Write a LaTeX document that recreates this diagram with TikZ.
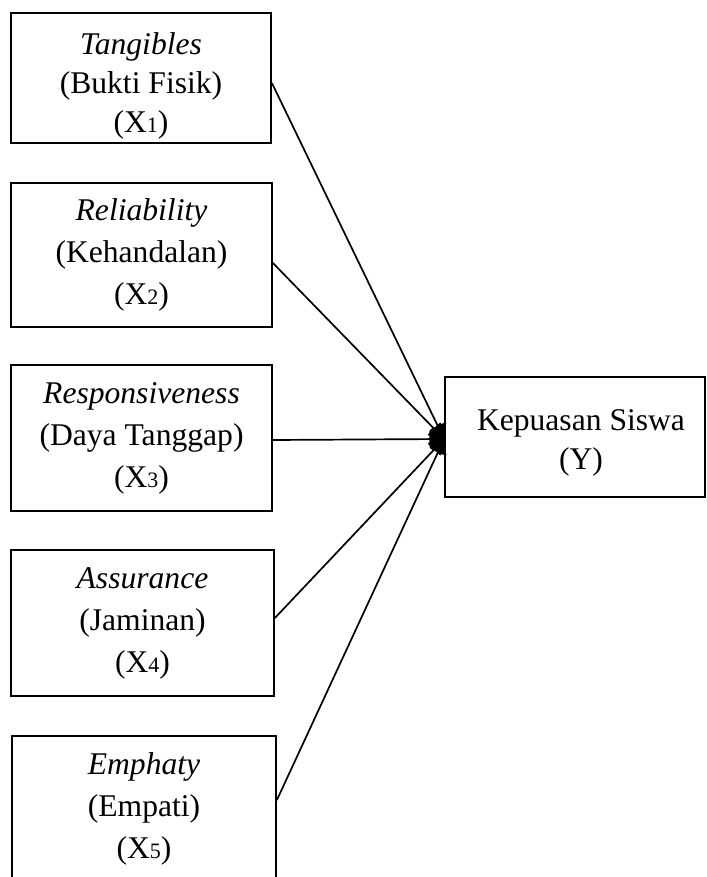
\documentclass[tikz,border=0pt]{standalone}
\usepackage{fontspec}
\setmainfont{Liberation Serif}
\usetikzlibrary{arrows.meta}
\newcommand\dsub[1]{{\fontsize{11pt}{11pt}\selectfont #1}}
\begin{document}
\begin{tikzpicture}[x=0.5pt,y=-0.5pt,
 box/.style={draw, line width=0.9pt, inner sep=0pt, align=center, font=\fontsize{15.8pt}{21pt}\selectfont},
 boxtext/.style={inner sep=0pt, align=center, font=\fontsize{15.8pt}{19.6pt}\selectfont},
 link/.style={line width=0.85pt, -{Latex[length=8pt,width=10pt,round]}}]
\useasboundingbox (0,0) rectangle (706,877);
\node[box, minimum width=130pt, minimum height=65pt,
  label={[boxtext, yshift=-4pt]center:{\textit{Tangibles}\\(Bukti Fisik)\\(X\dsub{1})}}] (b1) at (141,78) {};
\node[box, minimum width=130.5pt, minimum height=72pt] (b2) at (141.5,255) {\textit{Reliability}\\(Kehandalan)\\(X\dsub{2})};
\node[box, minimum width=130.5pt, minimum height=73pt] (b3) at (141.5,438) {\textit{Responsiveness}\\(Daya Tanggap)\\(X\dsub{3})};
\node[box, minimum width=131.5pt, minimum height=73pt] (b4) at (142.5,623) {\textit{Assurance}\\(Jaminan)\\(X\dsub{4})};
\node[box, minimum width=132pt, minimum height=73pt] (b5) at (144,809) {\textit{Emphaty}\\(Empati)\\(X\dsub{5})};
\node[box, minimum width=130pt, minimum height=60pt,
  label={[boxtext, yshift=-3pt, xshift=3pt]center:{Kepuasan Siswa\\(Y)}}] (y) at (575,437) {};
\draw[link] ([yshift=-2.5pt]b1.east) -- ([yshift=-1pt]y.west);
\draw[link] ([yshift=-4pt]b2.east) -- ([yshift=-1pt]y.west);
\draw[link] ([yshift=-1pt]b3.east) -- ([yshift=-1pt]y.west);
\draw[link] ([yshift=2.5pt]b4.east) -- ([yshift=-1pt]y.west);
\draw[link] ([yshift=4.5pt]b5.east) -- ([yshift=-1pt]y.west);
\end{tikzpicture}
\end{document}
